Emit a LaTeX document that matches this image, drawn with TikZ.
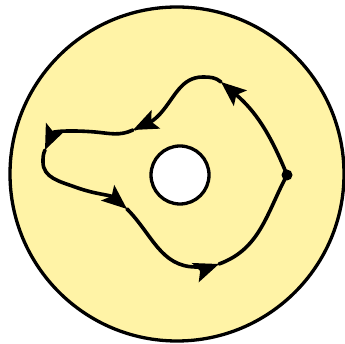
\documentclass[tikz,border=0pt]{standalone}
\usetikzlibrary{arrows.meta}
\definecolor{disk}{RGB}{255,243,166}
\tikzset{
  rim/.style={line width=3.3pt},
  loopline/.style={line width=3.6pt, line cap=round},
  tipped/.style={loopline, -{Stealth[length=25pt,width=20pt,inset=5pt]}}
}
\begin{document}
\begin{tikzpicture}[x=1pt,y=1pt]
\useasboundingbox (0,0) rectangle (345,344);
\draw[rim, fill=disk] (177,170) circle[radius=167];
\draw[rim, fill=white] (180,169) circle[radius=29];
\coordinate (dot) at (287,169);
\coordinate (a1) at (221,262);
\coordinate (top) at (203,267);
\coordinate (a2) at (133,214);
\coordinate (w1) at (95,212);
\coordinate (a3) at (45,194);
\coordinate (lft) at (43,182);
\coordinate (a4) at (127,135);
\coordinate (bot) at (196,77);
\coordinate (a5) at (219,80);
\draw[tipped] (dot) to[out=112,in=-40] (a1);
\draw[tipped] (a1) to[out=140,in=0] (top) to[out=180,in=48] (160,230) to[out=228,in=25] (a2);
\draw[tipped] (a2) to[out=205,in=-5] (w1) to[out=175,in=66] (a3);
\draw[tipped] (a3) to[out=246,in=90] (lft) to[out=-90,in=160] (75,157) to[out=-20,in=140] (a4);
\draw[tipped] (a4) to[out=-45,in=180] (bot) to[out=0,in=200] (a5);
\draw[loopline] (a5) to[out=20,in=242] (dot);
\fill (dot) circle[radius=5.5];
\end{tikzpicture}
\end{document}
